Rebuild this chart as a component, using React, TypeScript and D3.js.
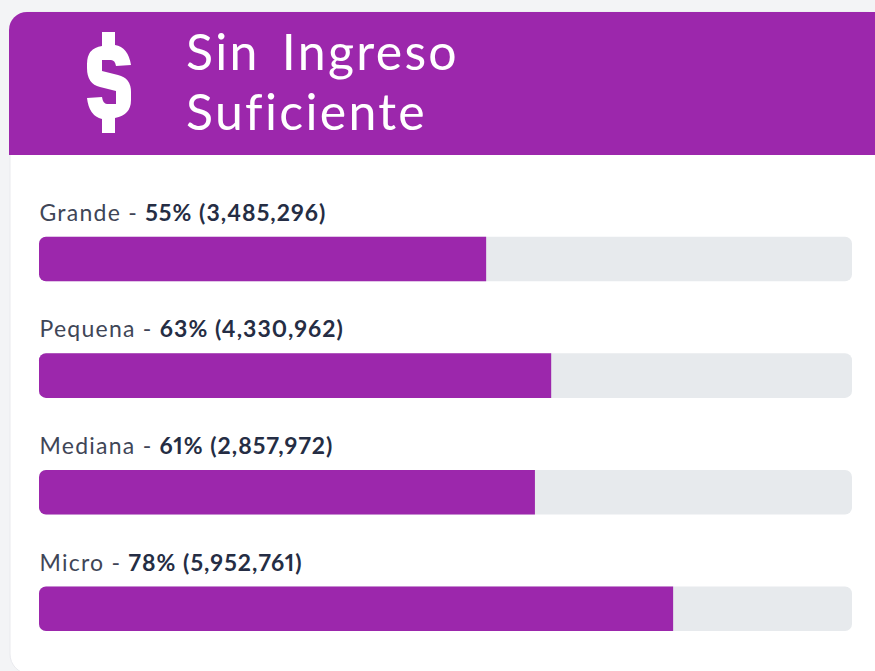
import React from "react"
import * as d3 from "d3"

const categories = ["Grande", "Pequena", "Mediana", "Micro"]
const percents = [55, 63, 61, 78]
const counts = [3485296, 4330962, 2857972, 5952761]
const titleLines = ["Sin Ingreso", "Suficiente"]

const PURPLE = "#9c27ac"
const TRACK = "#e7eaed"
const FONT = "Lato, 'Open Sans', sans-serif"
const DOLLAR = "M102,32 H115 V45 Q128,47 131,65 L116,66 Q115,60 111,60 H102 V71 L118,75 Q131,78 131,92 V100 Q131,115 115,118 V133 H102 V119 Q89,116 87,98 L102,97 Q103,104 107,104 H116 V91 L100,87 Q87,84 87,68 V64 Q87,48 102,46 Z"

// Bar with rounded left corners and a square right end.
const barPath = (x0: number, x1: number, y: number, h: number, r: number) => {
    const p = d3.path()
    p.moveTo(x1, y)
    p.lineTo(x1, y + h)
    p.lineTo(x0 + r, y + h)
    p.arcTo(x0, y + h, x0, y + h - r, r)
    p.lineTo(x0, y + r)
    p.arcTo(x0, y, x0 + r, y, r)
    p.closePath()
    return p.toString()
}

const App = () => {
    const width = 875
    const height = 671

    const scaleX = d3.scaleLinear().domain([0, 100]).range([39, 852])
    const scaleY = d3.scaleBand<string>()
        .domain(categories)
        .range([236.7, 236.7 + 4 * 116.6])
    const format = d3.format(",")

    // Header shape: rounded top left, runs off the page on the right.
    const header = d3.path()
    header.moveTo(9, 155)
    header.lineTo(9, 30)
    header.arcTo(9, 12, 27, 12, 18)
    header.lineTo(875, 12)
    header.lineTo(875, 155)
    header.closePath()

    return (
        <svg width={width} height={height} style={{ position: "absolute", left: 0, top: 0 }}>
            <rect width={width} height={height} fill="#f3f4f6" />
            <rect x={10} y={12} width={width} height={662} rx={20} fill="#ffffff" stroke="#e9eaee" strokeWidth={1} />
            <path d={header.toString()} fill={PURPLE} />

            <path d={DOLLAR} fill="#ffffff" />

            {titleLines.map((line, i) => (
                <text key={line} x={186} y={70 + i * 60} fill="#ffffff"
                    fontFamily={FONT} fontSize={50} letterSpacing={2.3} wordSpacing={7}>
                    {line}
                </text>
            ))}

            {categories.map((cat, i) => {
                const y = scaleY(cat) as number
                return (
                    <g key={cat}>
                        <text x={39.5} y={y - 16} fontFamily={FONT} fontSize={23} fill="#3f4657" letterSpacing={1.25}>
                            {cat} -{" "}
                            <tspan fontWeight={700} fill="#252d44" letterSpacing={1.05}
                                style={{ fontVariantNumeric: "proportional-nums" }}>
                                {percents[i]}% ({format(counts[i])})
                            </tspan>
                        </text>
                        <rect x={scaleX(0)} y={y} width={scaleX(100) - scaleX(0)} height={44.6} rx={7} fill={TRACK} />
                        <path d={barPath(scaleX(0), scaleX(percents[i]), y, 44.6, 7)} fill={PURPLE} />
                    </g>
                )
            })}
        </svg>
    )
}

export default App
